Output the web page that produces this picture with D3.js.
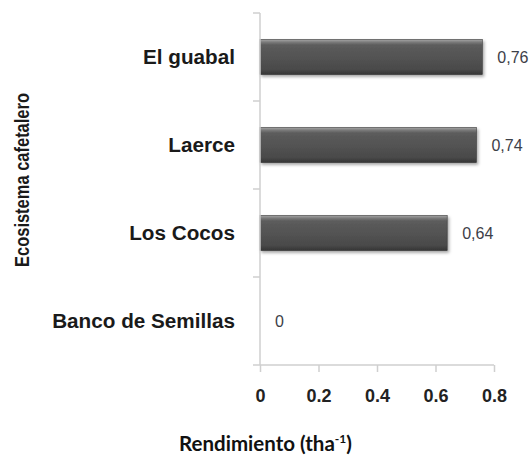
<!DOCTYPE html>
<html>
<head>
<meta charset="utf-8">
<script src="https://cdn.jsdelivr.net/npm/d3@7"></script>
<style>
  html, body { margin: 0; padding: 0; background: #fff; }
  svg { display: block; }
</style>
</head>
<body>
<svg id="chart" width="531" height="457"></svg>
<script>
// Coffee ecosystem yield (t/ha)
const categories = ["El guabal", "Laerce", "Los Cocos", "Banco de Semillas"];
const yields = [0.76, 0.74, 0.64, 0];
const valueLabels = ["0,76", "0,74", "0,64", "0"];
const xTicks = [0, 0.2, 0.4, 0.6, 0.8];

const W = 531, H = 457;
const margin = { top: 13, right: 37, bottom: 92, left: 260 };

const svg = d3.select("#chart");

const x = d3.scaleLinear().domain([0, 0.8]).range([margin.left, W - margin.right]);
const y = d3.scaleBand().domain(categories)
  .range([margin.top, H - margin.bottom])
  .paddingInner(0.6).paddingOuter(0.3);

// Bevelled bar fill + soft shadow
const defs = svg.append("defs");
const grad = defs.append("linearGradient").attr("id", "barFill")
  .attr("x1", 0).attr("y1", 0).attr("x2", 0).attr("y2", 1);
[[0, "#a8a8a8"], [0.08, "#7a7a7a"], [0.16, "#5c5c5c"], [0.85, "#4a4a4a"], [1, "#353535"]]
  .forEach(([o, c]) => grad.append("stop").attr("offset", o).attr("stop-color", c));
const sh = defs.append("filter").attr("id", "shadow")
  .attr("x", "-10%").attr("y", "-30%").attr("width", "130%").attr("height", "180%");
sh.append("feDropShadow").attr("dx", 1.5).attr("dy", 2).attr("stdDeviation", 1.5)
  .attr("flood-color", "#000").attr("flood-opacity", 0.35);

// Bars
svg.append("g").selectAll("rect")
  .data(categories.map((c, i) => ({ c, v: yields[i] })).filter(d => d.v > 0))
  .join("rect")
  .attr("x", x(0))
  .attr("y", d => y(d.c))
  .attr("width", d => x(d.v) - x(0))
  .attr("height", y.bandwidth())
  .attr("fill", "url(#barFill)")
  .attr("stroke", "#3a3a3a")
  .attr("stroke-width", 0.6)
  .attr("filter", "url(#shadow)");

// Axes
const axisColor = "#cfcfcf";
const xAxis = svg.append("g")
  .attr("transform", `translate(0,${H - margin.bottom})`)
  .call(d3.axisBottom(x).tickValues(xTicks).tickSize(7).tickFormat(d3.format("")));
const yAxis = svg.append("g")
  .attr("transform", `translate(${margin.left},0)`)
  .call(d3.axisLeft(y).tickSize(0).tickFormat(""));

// Category separator ticks on y axis (band boundaries)
const bounds = categories.map(c => y(c) - y.step() * y.paddingInner() / 2);
bounds[0] = margin.top;
bounds.push(H - margin.bottom);
yAxis.selectAll(".sep").data(bounds).join("line")
  .attr("class", "sep")
  .attr("x1", -7).attr("x2", 0)
  .attr("y1", d => d).attr("y2", d => d)
  .attr("stroke", axisColor).attr("stroke-width", 1.5);

[xAxis, yAxis].forEach(g => {
  g.select(".domain").attr("stroke", axisColor).attr("stroke-width", 1.5);
  g.selectAll(".tick line").attr("stroke", axisColor).attr("stroke-width", 1.5);
});
yAxis.select(".domain").attr("d", `M0,${margin.top}H0V${H - margin.bottom}`);
xAxis.select(".domain").attr("d", `M${x(0)},0H${x(0.8)}`);

xAxis.selectAll(".tick text")
  .attr("y", 24)
  .attr("font-family", "Arial, 'Liberation Sans', sans-serif")
  .attr("font-weight", "bold")
  .attr("font-size", 18)
  .attr("fill", "#222");

// Category labels
svg.append("g").selectAll("text")
  .data(categories)
  .join("text")
  .attr("x", 235)
  .attr("y", d => y(d) + y.bandwidth() / 2)
  .attr("dy", "0.35em")
  .attr("text-anchor", "end")
  .attr("font-family", "Arial, 'Liberation Sans', sans-serif")
  .attr("font-weight", "bold")
  .attr("font-size", 20.7)
  .attr("fill", "#1a1a1a")
  .text(d => d);

// Value labels
svg.append("g").selectAll("text")
  .data(categories.map((c, i) => ({ c, v: yields[i], t: valueLabels[i] })))
  .join("text")
  .attr("x", d => x(d.v) + 15)
  .attr("y", d => y(d.c) + y.bandwidth() / 2)
  .attr("dy", "0.35em")
  .attr("font-family", "Arial, 'Liberation Sans', sans-serif")
  .attr("font-size", 16)
  .attr("fill", "#3d4048")
  .text(d => d.t);

// Axis titles
const xt = svg.append("text")
  .attr("x", W / 2)
  .attr("y", 451)
  .attr("text-anchor", "middle")
  .attr("font-family", "Lato, 'Open Sans', sans-serif")
  .attr("font-weight", "bold")
  .attr("font-size", 20.5)
  .attr("fill", "#111");
xt.append("tspan").text("Rendimiento (tha");
xt.append("tspan").attr("font-size", 12).attr("dy", -8).text("-1");
xt.append("tspan").attr("dy", 8).text(")");

// Condensed vertical title
svg.append("text")
  .attr("transform", `translate(22,${(margin.top + H - margin.bottom) / 2 - 9}) rotate(-90)`)
  .attr("text-anchor", "middle")
  .attr("dy", "0.35em")
  .attr("font-family", "Arial, 'Liberation Sans', sans-serif")
  .attr("font-weight", "bold")
  .attr("font-size", 20)
  .attr("textLength", 174)
  .attr("lengthAdjust", "spacingAndGlyphs")
  .attr("fill", "#1a1a1a")
  .text("Ecosistema cafetalero");
</script>
</body>
</html>
